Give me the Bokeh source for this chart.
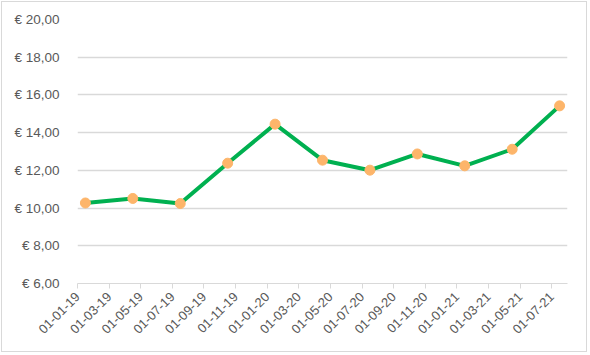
import math
from bokeh.plotting import figure
from bokeh.models import ColumnDataSource, FixedTicker
from bokeh.embed import file_html
from bokeh.resources import INLINE

# data (quarterly values)
dates = ["2019-01", "2019-04", "2019-07", "2019-10", "2020-01", "2020-04",
         "2020-07", "2020-10", "2021-01", "2021-04", "2021-07"]
prices = [10.27, 10.51, 10.24, 12.38, 14.45, 12.54, 12.01, 12.87, 12.24, 13.12, 15.42]

tick_labels = ["01-01-19", "01-03-19", "01-05-19", "01-07-19", "01-09-19", "01-11-19",
               "01-01-20", "01-03-20", "01-05-20", "01-07-20", "01-09-20", "01-11-20",
               "01-01-21", "01-03-21", "01-05-21", "01-07-21"]
y_ticks = [6, 8, 10, 12, 14, 16, 18, 20]


def month_pos(s):
    y, m = s.split("-")
    return (int(y) - 2019) * 12 + (int(m) - 1) + 0.5


xs = [month_pos(d) for d in dates]
tick_pos = [2 * i for i in range(len(tick_labels))]

src = ColumnDataSource(dict(x=xs, y=prices))

FONT = "Liberation Sans"
TXT = "#595959"
GRID = "#D9D9D9"

p = figure(width=586, height=351, output_backend="svg", toolbar_location=None,
           x_range=(0, 31), y_range=(6, 20),
           min_border_left=75, min_border_right=21, min_border_top=17, min_border_bottom=70,
           styles={"border": "1px solid #D9D9D9", "margin-left": "1px", "margin-top": "1px"})
p.outline_line_color = None
p.background_fill_color = "white"
p.border_fill_color = "white"

p.line("x", "y", source=src, line_color="#00B050", line_width=4, line_join="round")
p.scatter("x", "y", source=src, size=10, fill_color="#FDB56A", line_color="#FDB56A")

# y axis
p.yaxis.ticker = FixedTicker(ticks=y_ticks)
p.yaxis.major_label_overrides = {v: "€ {:.2f}".format(v).replace(".", ",") for v in y_ticks}
p.yaxis.axis_line_color = None
p.yaxis.major_tick_line_color = None
p.yaxis.minor_tick_line_color = None
p.yaxis.major_label_text_font = FONT
p.yaxis.major_label_text_font_size = "13.5px"
p.yaxis.major_label_text_color = TXT
p.yaxis.major_label_standoff = 12

# x axis
p.xaxis.ticker = FixedTicker(ticks=tick_pos)
p.xaxis.major_label_overrides = {pos: lab for pos, lab in zip(tick_pos, tick_labels)}
p.xaxis.major_label_orientation = math.pi / 4
p.xaxis.axis_line_color = GRID
p.xaxis.major_tick_line_color = GRID
p.xaxis.major_tick_in = 0
p.xaxis.major_tick_out = 5
p.xaxis.minor_tick_line_color = None
p.xaxis.major_label_text_font = FONT
p.xaxis.major_label_text_font_size = "13px"
p.xaxis.major_label_text_color = TXT
p.xaxis.major_label_standoff = 6

p.xgrid.grid_line_color = None
p.ygrid.grid_line_color = GRID
p.ygrid.grid_line_width = 1.5

open("out.html", "w").write(file_html(p, INLINE))
